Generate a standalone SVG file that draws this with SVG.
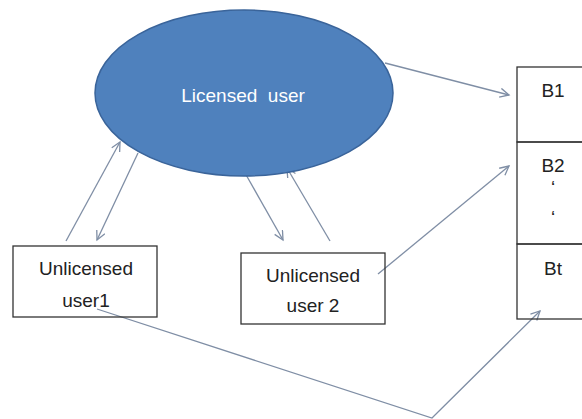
<svg xmlns="http://www.w3.org/2000/svg" width="582" height="419" viewBox="0 0 582 419">
<style>
.box{fill:none;stroke:#333;stroke-width:1.3}
.lbl{font-family:"Liberation Sans",Arial,sans-serif;font-size:19px;fill:#222;text-anchor:middle}
.con{fill:none;stroke:#7f8ea5;stroke-width:1.3}
</style>
<defs>
<marker id="ah" markerWidth="12" markerHeight="12" refX="10" refY="5" orient="auto" markerUnits="userSpaceOnUse">
<path d="M1,0.5 L10,5 L1,9.5" fill="none" stroke="#7f8ea5" stroke-width="1.3"/>
</marker>
</defs>
<rect width="582" height="419" fill="#fff"/>
<g id="connectors">
<line class="con" x1="66" y1="241" x2="120" y2="142" marker-end="url(#ah)"/>
<line class="con" x1="138" y1="153" x2="97" y2="240" marker-end="url(#ah)"/>
<line class="con" x1="245" y1="173" x2="283" y2="240" marker-end="url(#ah)"/>
<line class="con" x1="330" y1="241" x2="287" y2="168" marker-end="url(#ah)"/>
<line class="con" x1="385" y1="63" x2="509" y2="95" marker-end="url(#ah)"/>
<line class="con" x1="378" y1="274" x2="509" y2="166" marker-end="url(#ah)"/>
<polyline class="con" points="97,309 432,418 540,311" marker-end="url(#ah)"/>
</g>
<g id="licensed">
<ellipse cx="244" cy="93" rx="149" ry="83" fill="#4f81bd" stroke="#3a649a" stroke-width="1.5"/>
<text x="243" y="102" xml:space="preserve" style="font-family:'Liberation Sans',Arial,sans-serif;font-size:19px;fill:#fff;text-anchor:middle">Licensed  user</text>
</g>
<g id="unlicensed1">
<rect class="box" x="13" y="246" width="144" height="71"/>
<text class="lbl" x="86" y="275">Unlicensed</text>
<text class="lbl" x="86" y="307">user1</text>
</g>
<g id="unlicensed2">
<rect class="box" x="241" y="253" width="144" height="71"/>
<text class="lbl" x="313" y="282">Unlicensed</text>
<text class="lbl" x="313" y="312">user 2</text>
</g>
<g id="b1">
<rect class="box" x="517" y="67" width="80" height="75"/>
<text class="lbl" x="553" y="97">B1</text>
</g>
<g id="b2">
<rect class="box" x="517" y="142" width="80" height="102"/>
<text class="lbl" x="553" y="172">B2</text>
<text class="lbl" x="553" y="194">‘</text>
<text class="lbl" x="553" y="224">‘</text>
</g>
<g id="bt">
<rect class="box" x="517" y="244" width="80" height="75"/>
<text class="lbl" x="553" y="275">Bt</text>
</g>
</svg>
